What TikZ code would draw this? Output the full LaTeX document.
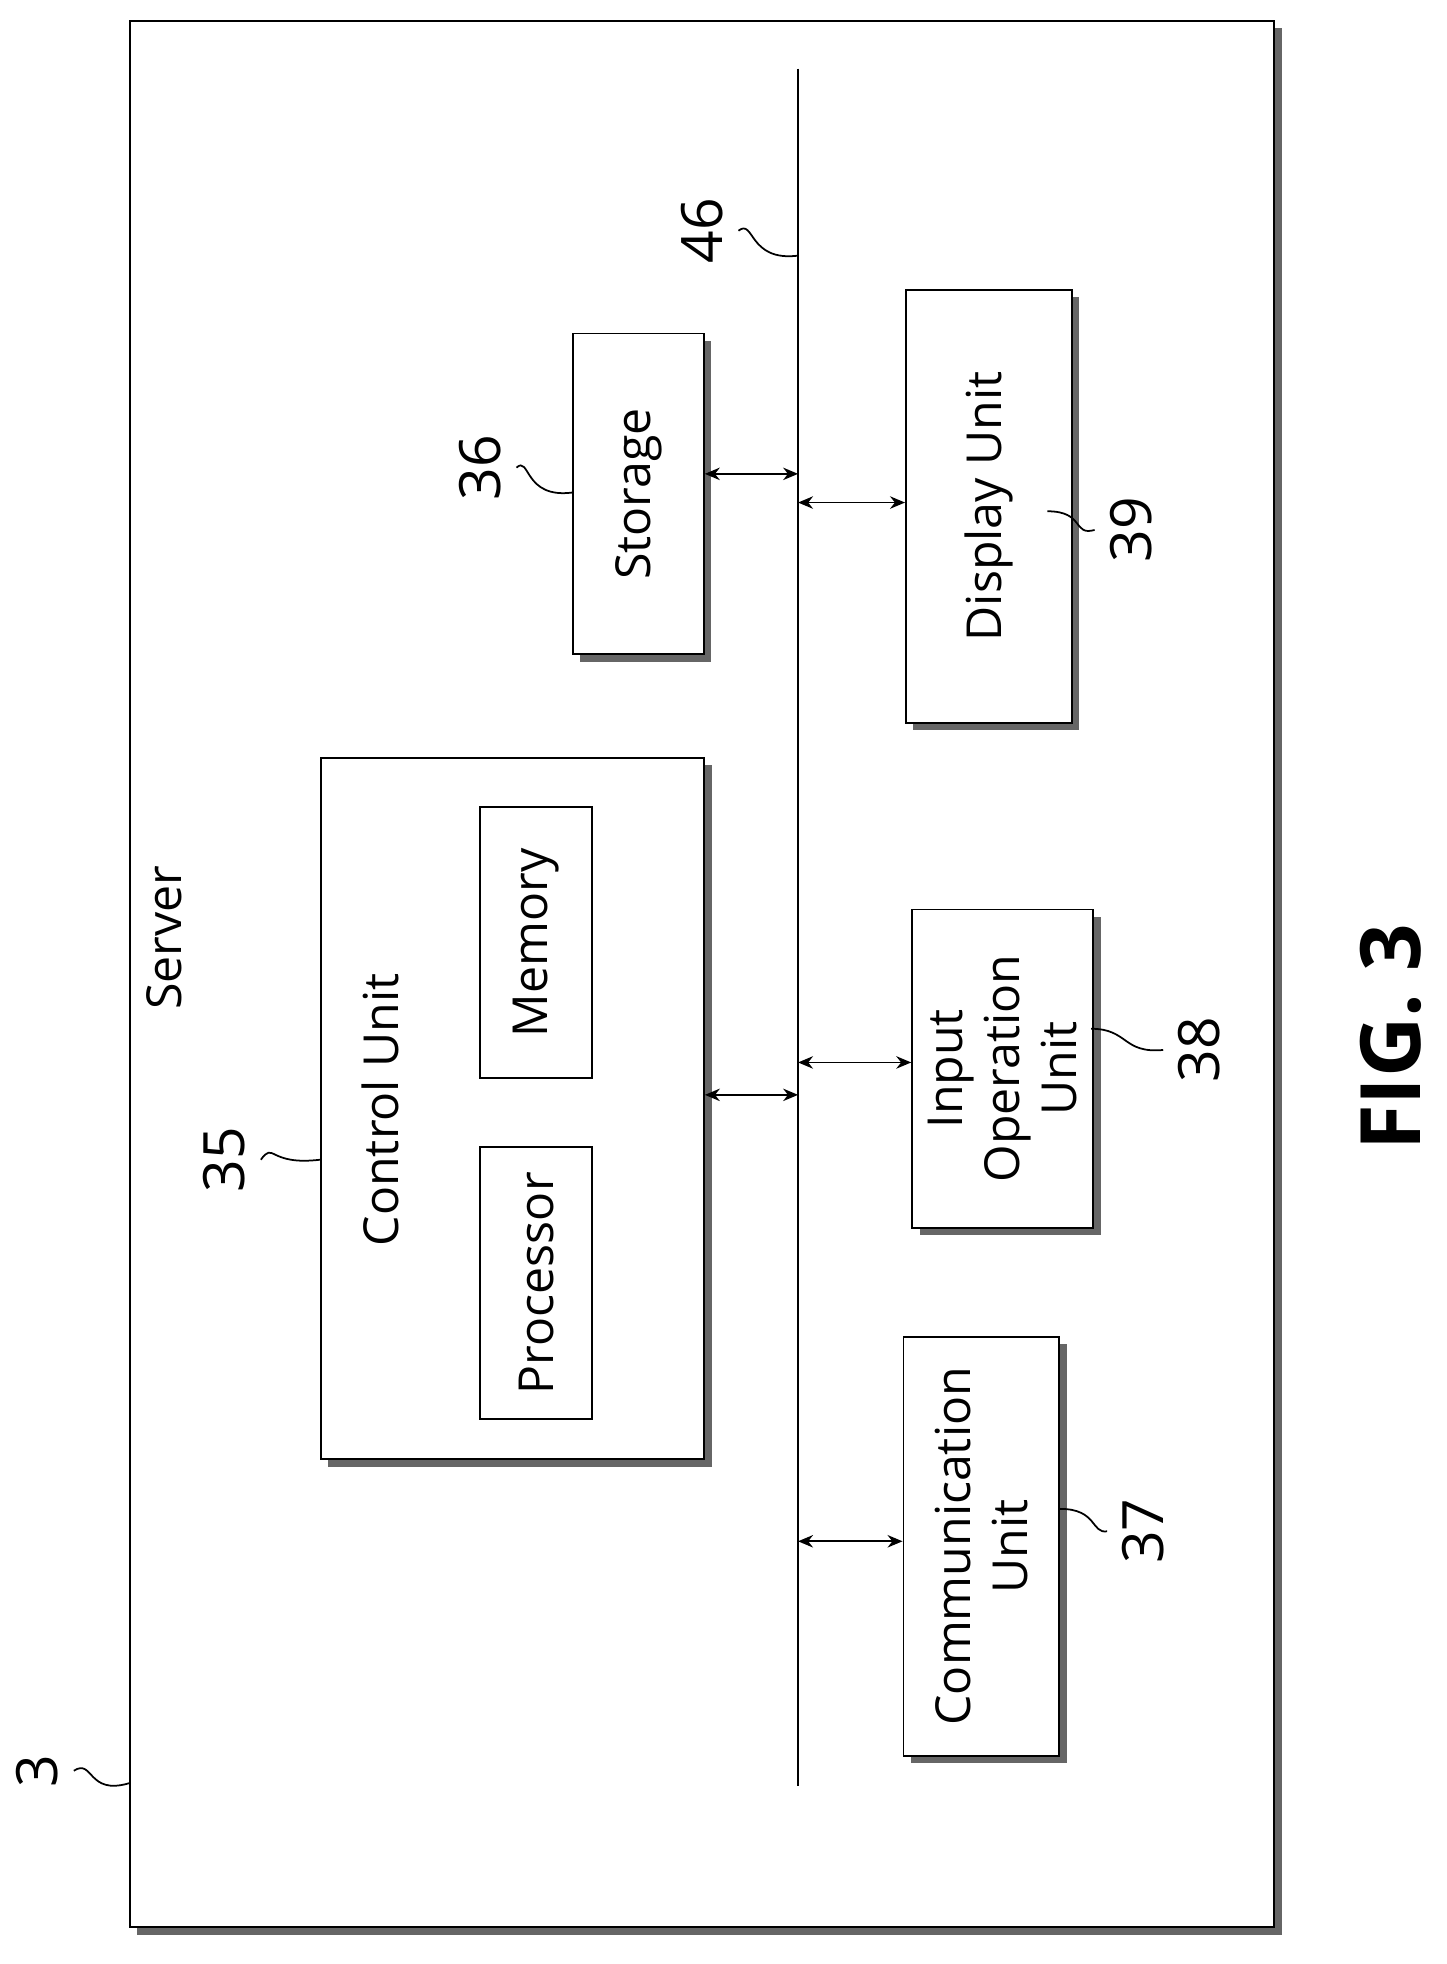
\documentclass[tikz,border=0pt]{standalone}
\usepackage{fontspec}
\setmainfont{Open Sans}
\usetikzlibrary{shadows,arrows.meta}

\begin{document}
\begin{tikzpicture}[%
    x={(0.01cm,0)}, y={(0,-0.01cm)},  % pixel-like grid, y going down
    >={Stealth[length=1.2mm,width=1mm]},
    font=\fontsize{11}{13}\selectfont,
    ]
% -------------------------------------------------
% Box styles (rotated: north is the left side, south the right side)
\tikzset{
  unit/.style={draw, rectangle, rotate=90, align=center, fill=white,
    drop shadow={shadow xshift=0.06cm, shadow yshift=-0.06cm,
      fill=black!60, opacity=1}},
  inner/.style={draw, rectangle, rotate=90, align=center},
  num/.style={rotate=90, font=\fontsize{13}{15}\selectfont},
  lead/.style={draw, thin},
  link/.style={<->, draw, thin}
}
\useasboundingbox (0,0) rectangle (1160,1575);
% -------------------------------------------------
% Server frame
\node [unit, minimum width=15.28cm, minimum height=9.17cm] (srv) at (563,781) {};
\node [rotate=90] (srvl) at (132,752) {Server};
\node [num] (n3) at (30,1420) {3};
\draw [lead] (n3.south) .. controls (75,1410) and (70,1440) .. (srv.north |- 0,1430);

% Bus
\coordinate (bt) at (640,55);
\coordinate (bb) at (640,1432);
\draw [thin] (bt) -- (bb);
\node [num] (n46) at (563,185) {46};
\draw [lead] (n46.south) .. controls (605,175) and (600,210) .. (640,205);

% Units
\node [unit, minimum width=2.57cm, minimum height=1.05cm] (sto) at (512,396) {Storage};
\node [unit, minimum width=3.47cm, minimum height=1.33cm] (disp) at (793,406) {Display Unit};
\node [unit, minimum width=5.62cm, minimum height=3.07cm] (ctl) at (411,889) {};
\node [rotate=90] (ctll) at (305,890) {Control Unit};
\node [inner, minimum width=2.17cm, minimum height=0.9cm] (mem) at (430,756) {Memory};
\node [inner, minimum width=2.18cm, minimum height=0.9cm] (proc) at (430,1029) {Processor};
\node [unit, minimum width=2.55cm, minimum height=1.45cm] (inp) at (804,857) {Input\\Operation\\Unit};
\node [unit, minimum width=3.36cm, minimum height=1.25cm] (com) at (787,1240) {Communication\\Unit};

% Reference numerals
\node [num] (n36) at (385,375) {36};
\draw [lead] (n36.south) .. controls (425,365) and (420,400) .. (sto.north |- 0,395);
\node [num] (n35) at (180,930) {35};
\draw [lead] (n35.south) .. controls (220,915) and (215,935) .. (ctl.north |- 0,930);
\node [num] (n39) at (907,425) {39};
\draw [lead] (840,410) .. controls (870,410) and (860,430) .. (n39.north);
\node [num] (n38) at (962,842) {38};
\draw [lead] (875,825) .. controls (905,825) and (900,845) .. (n38.north);
\node [num] (n37) at (917,1228) {37};
\draw [lead] (850,1210) .. controls (880,1210) and (875,1230) .. (n37.north);

% Bus links
\draw [link] (sto.south |- 0,380) -- (bt |- 0,380);
\draw [link] (bt |- 0,403) -- (disp.north |- 0,403);
\draw [link] (ctl.south |- 0,878) -- (bt |- 0,878);
\draw [link] (bt |- 0,852) -- (inp.north |- 0,852);
\draw [link] (bt |- 0,1236) -- (com.north |- 0,1236);

\node [rotate=90, font=\fontsize{19}{22}\selectfont\bfseries] (fig) at (1115,832) {FIG. 3};
% -------------------------------------------------
\end{tikzpicture}
\end{document}
